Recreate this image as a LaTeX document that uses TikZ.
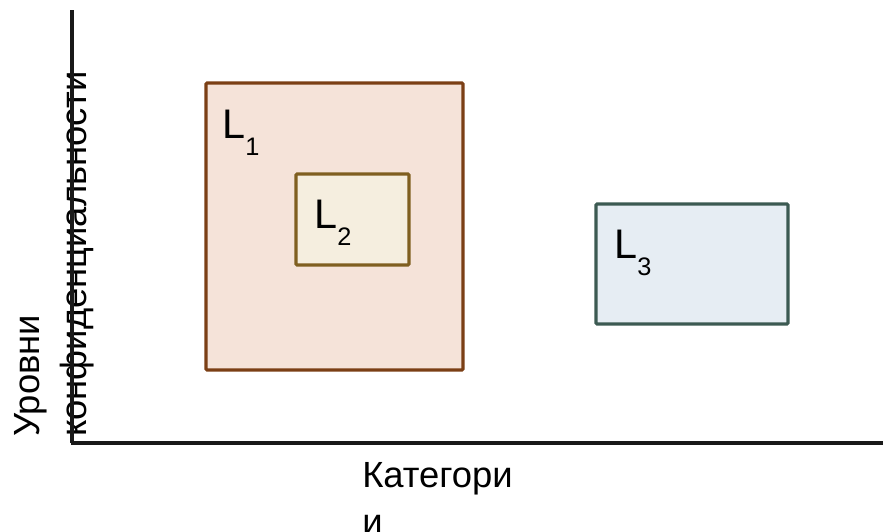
\documentclass[tikz,border=0pt]{standalone}
\usepackage{fontspec}
\setmainfont{Liberation Sans}
\usetikzlibrary{calc}
\definecolor{peachfill}{HTML}{F5E3D9}
\definecolor{peachline}{HTML}{7B3F15}
\definecolor{creamfill}{HTML}{F5EEDF}
\definecolor{creamline}{HTML}{7F5F20}
\definecolor{bluefill}{HTML}{E6EDF3}
\definecolor{blueline}{HTML}{3C5A52}
\tikzset{%
  myaxis/.style={line width=3pt, color=black!90},
  myzone/.style={line width=2.3pt, rounded corners=0.8pt},
  mylevel/.style={inner sep=0pt, anchor=base west, font=\fontsize{31}{31}\selectfont},
  mytitle/.style={inner sep=0pt, anchor=base west, align=left, font=\fontsize{27.3}{35}\selectfont}
}
\newcommand{\lvsub}[1]{\raisebox{-13pt}{\fontsize{19}{19}\selectfont #1}}

\begin{document}
\begin{tikzpicture}[x=0.75pt, y=-0.75pt]
\useasboundingbox (0,0) rectangle (883,532);

\coordinate [] (O) at (72,443);
\coordinate [] (Ytop) at (72,10);
\coordinate [] (Xend) at (883,443);

\coordinate [] (A1) at (206,83);
\coordinate [] (A2) at (463,370);
\coordinate [] (B1) at (296,174);
\coordinate [] (B2) at (409,265);
\coordinate [] (C1) at (596,204);
\coordinate [] (C2) at (788,324);

% ゾーン
\draw [myzone, draw=peachline, fill=peachfill] (A1) rectangle (A2);
\draw [myzone, draw=creamline, fill=creamfill] (B1) rectangle (B2);
\draw [myzone, draw=blueline, fill=bluefill] (C1) rectangle (C2);

\node (L1) [mylevel] at (222,138) {L\lvsub{1}};
\node (L2) [mylevel] at (314,228) {L\lvsub{2}};
\node (L3) [mylevel] at (614,258) {L\lvsub{3}};

\node (ylab) [mytitle, rotate=90] at (86,437) {Уровни\\конфиденциальности};

% 軸
\draw [myaxis] (O) -- (Ytop);
\draw [myaxis] ($(O)+(-1.5,0)$) -- (Xend);

\node (xlab) [mytitle] at (362,534) {Категори\\и};
\end{tikzpicture}
\end{document}
